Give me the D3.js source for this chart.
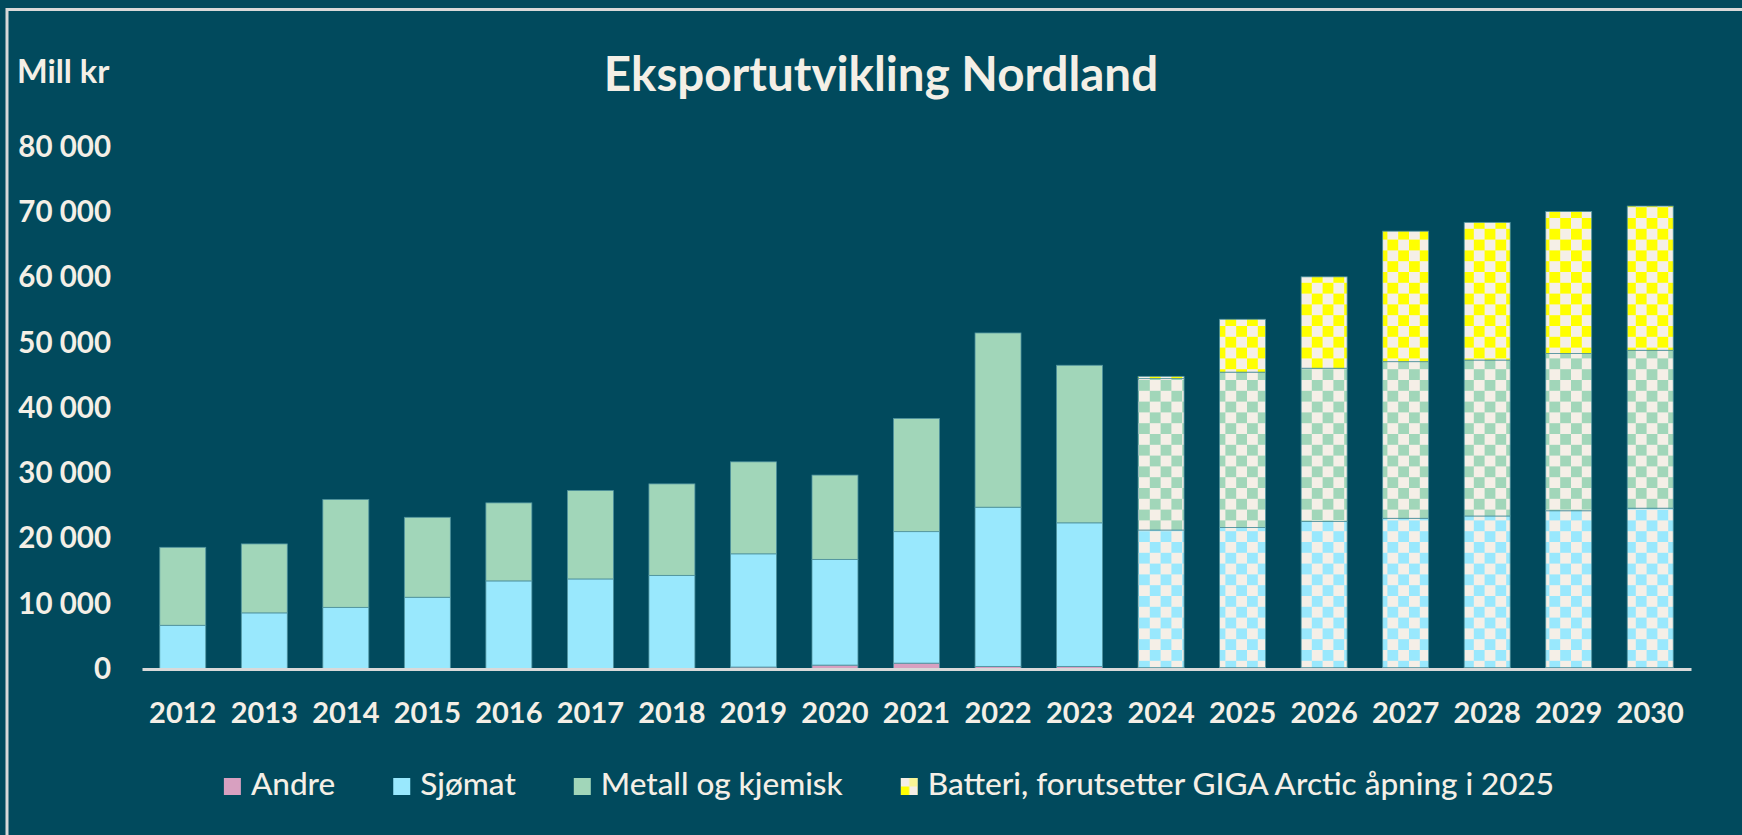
<!DOCTYPE html>
<html>
<head>
<meta charset="utf-8">
<script src="https://cdn.jsdelivr.net/npm/d3@7"></script>
<style>
  html, body { margin: 0; padding: 0; background: #014a5d; }
  svg { display: block; font-family: Lato, "Open Sans", sans-serif; }
</style>
</head>
<body>
<div id="chart"></div>
<script>
// data (Mill kr)
var years   = ["2012","2013","2014","2015","2016","2017","2018","2019","2020","2021",
               "2022","2023","2024","2025","2026","2027","2028","2029","2030"];
var andre   = [0, 0, 0, 0, 0, 0, 0, 300, 600, 900, 400, 400, 200, 200, 200, 200, 200, 200, 200];
var sjomat  = [6700, 8600, 9450, 11000, 13500, 13800, 14350, 17350, 16200, 20150,
               24400, 22000, 21100, 21500, 22400, 22900, 23250, 24050, 24450];
var metall  = [11950, 10570, 16520, 12250, 11960, 13540, 14020, 14100, 12920, 17350,
               26700, 24150, 23200, 23800, 23500, 24000, 23900, 24100, 24200];
var batteri = [0, 0, 0, 0, 0, 0, 0, 0, 0, 0, 0, 0, 350, 8100, 14000, 20000, 21100, 21750, 22100];
var firstForecast = "2024";   // bars from this year on are drawn checkered
var yTicks = [0, 10000, 20000, 30000, 40000, 50000, 60000, 70000, 80000];

var seriesKeys   = ["andre", "sjomat", "metall", "batteri"];
var seriesNames  = ["Andre", "Sjømat", "Metall og kjemisk", "Batteri, forutsetter GIGA Arctic åpning i 2025"];
var seriesColors = ["#d8a0c0", "#99e8fd", "#a1d6b9", "#ffff00"];

var W = 1742, H = 835;
var bg = "#014a5d", textCol = "#f4efe6", cream = "#f5efe7";

var table = years.map(function(y, i) {
  return {year: y, andre: andre[i], sjomat: sjomat[i], metall: metall[i], batteri: batteri[i]};
});

var svg = d3.select("#chart").append("svg")
    .attr("width", W)
    .attr("height", H);

svg.append("rect").attr("width", W).attr("height", H).attr("fill", bg);

// frame (only top and left edge are visible in the picture)
svg.append("line").attr("x1", 7).attr("x2", W).attr("y1", 9.5).attr("y2", 9.5)
   .attr("stroke", "#d9d9d9").attr("stroke-width", 3);
svg.append("line").attr("x1", 7).attr("x2", 7).attr("y1", 8).attr("y2", H)
   .attr("stroke", "#d9d9d9").attr("stroke-width", 3);

// checkerboard patterns for the forecast years
var cell = 10.8;
var defs = svg.append("defs");
seriesKeys.forEach(function(k, i) {
  var p = defs.append("pattern")
      .attr("id", "chk-" + k)
      .attr("patternUnits", "userSpaceOnUse")
      .attr("x", 5).attr("y", 2)
      .attr("width", cell * 2).attr("height", cell * 2);
  p.append("rect").attr("width", cell * 2).attr("height", cell * 2).attr("fill", cream);
  p.append("rect").attr("width", cell).attr("height", cell).attr("fill", seriesColors[i]);
  p.append("rect").attr("x", cell).attr("y", cell).attr("width", cell).attr("height", cell).attr("fill", seriesColors[i]);
});
// small 2x2 checker used by the legend swatch
var sw = defs.append("pattern")
    .attr("id", "chk-legend")
    .attr("patternUnits", "objectBoundingBox")
    .attr("patternContentUnits", "objectBoundingBox")
    .attr("width", 1).attr("height", 1);
sw.append("rect").attr("width", 1).attr("height", 1).attr("fill", cream);
sw.append("rect").attr("x", 0.5).attr("width", 0.5).attr("height", 0.5).attr("fill", "#ffff00").attr("opacity", 0.35);
sw.append("rect").attr("y", 0.5).attr("width", 0.5).attr("height", 0.5).attr("fill", "#ffff00");

// scales
var x = d3.scaleBand()
    .domain(years)
    .range([142, 1691])
    .paddingInner(0.436)
    .paddingOuter(0.218);

var y = d3.scaleLinear()
    .domain([0, 80000])
    .range([669, 147]);

var color = d3.scaleOrdinal().domain(seriesKeys).range(seriesColors);

var stack = d3.stack().keys(seriesKeys);
var layers = stack(table);

// bars
svg.append("g")
  .selectAll("g")
  .data(layers)
  .enter()
  .append("g")
  .each(function(layer) {
    d3.select(this).selectAll("rect")
      .data(layer.filter(function(d) { return d[1] - d[0] > 0; }))
      .enter()
      .append("rect")
        .attr("x", function(d) { return x(d.data.year); })
        .attr("y", function(d) { return y(d[1]); })
        .attr("width", x.bandwidth())
        .attr("height", function(d) { return y(d[0]) - y(d[1]); })
        .attr("fill", function(d) {
          return d.data.year >= firstForecast ? "url(#chk-" + layer.key + ")" : color(layer.key);
        })
        .attr("stroke", "#4f929e")
        .attr("stroke-width", 0.8);
  });

// number format with space as thousands separator
var nb = d3.formatLocale({decimal: ",", thousands: "\u00a0", grouping: [3], currency: ["", " kr"]});

// y axis
var yAxis = svg.append("g")
    .attr("transform", "translate(142,0)")
    .call(d3.axisLeft(y).tickValues(yTicks).tickSize(0).tickPadding(31).tickFormat(nb.format(",")));
yAxis.select(".domain").remove();
yAxis.selectAll("text")
    .attr("fill", textCol)
    .style("font-family", "Lato, sans-serif")
    .style("font-size", "29.5px")
    .style("font-weight", "bold");

// x axis, the domain line is the light baseline
var xAxis = svg.append("g")
    .attr("transform", "translate(0," + y(0) + ")")
    .call(d3.axisBottom(x).tickSize(0).tickSizeOuter(0).tickPadding(33));
xAxis.select(".domain")
    .attr("stroke", "#d9d9d9")
    .attr("stroke-width", 3);
xAxis.selectAll("text")
    .attr("fill", textCol)
    .style("font-family", "Lato, sans-serif")
    .style("font-size", "29px")
    .style("font-weight", "bold");

// titles
svg.append("text")
    .attr("x", 881).attr("y", 91)
    .attr("text-anchor", "middle")
    .attr("fill", textCol)
    .style("font-size", "47.5px")
    .style("font-weight", "bold")
    .text("Eksportutvikling Nordland");

svg.append("text")
    .attr("x", 17).attr("y", 83)
    .attr("fill", textCol)
    .style("font-size", "32.5px")
    .style("font-weight", "bold")
    .text("Mill kr");

// legend
var legend = svg.append("g");
var lx = 0, boxSize = 17, gap = 58;
seriesKeys.forEach(function(k, i) {
  var g = legend.append("g").attr("transform", "translate(" + lx + ",0)");
  g.append("rect")
      .attr("y", -17).attr("width", boxSize).attr("height", boxSize)
      .attr("fill", k === "batteri" ? "url(#chk-legend)" : color(k));
  var t = g.append("text")
      .attr("x", boxSize + 10)
      .attr("fill", textCol)
      .style("font-size", "31.5px")
      .style("font-weight", 500)
      .text(seriesNames[i]);
  lx += boxSize + 10 + t.node().getComputedTextLength() + gap;
});
var legendW = lx - gap;
legend.attr("transform", "translate(" + (889 - legendW / 2) + ",795)");
</script>
</body>
</html>
